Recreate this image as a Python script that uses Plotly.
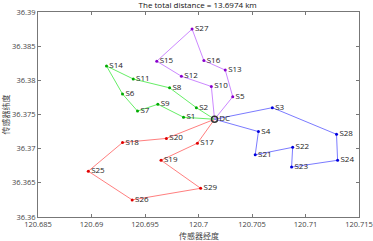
import plotly.graph_objects as go

depot = ("DC", 120.7015, 36.3743)

green_names = ["S2", "S8", "S11", "S14", "S6", "S7", "S9", "S1"]
green_lon = [120.6998, 120.6973, 120.6939, 120.6914, 120.6929, 120.6943, 120.6962, 120.6986]
green_lat = [36.3760, 36.3789, 36.3802, 36.3821, 36.3780, 36.3755, 36.3765, 36.3746]

purple_names = ["S10", "S12", "S15", "S27", "S16", "S13", "S5"]
purple_lon = [120.7012, 120.6984, 120.6961, 120.6994, 120.7005, 120.7025, 120.7032]
purple_lat = [36.3791, 36.3806, 36.3828, 36.3875, 36.3829, 36.3815, 36.3776]

blue_names = ["S3", "S28", "S24", "S23", "S22", "S21", "S4"]
blue_lon = [120.7069, 120.7129, 120.7130, 120.7087, 120.7088, 120.7053, 120.7056]
blue_lat = [36.3760, 36.3721, 36.3683, 36.3673, 36.3702, 36.3691, 36.3725]

red_names = ["S20", "S18", "S25", "S26", "S29", "S19", "S17"]
red_lon = [120.6970, 120.6929, 120.6897, 120.6938, 120.7002, 120.6965, 120.6999]
red_lat = [36.3715, 36.3709, 36.3667, 36.3625, 36.3642, 36.3683, 36.3708]

x_ticks = [120.685, 120.69, 120.695, 120.7, 120.705, 120.71, 120.715]
x_ticktext = ["120.685", "120.69", "120.695", "120.7", "120.705", "120.71", "120.715"]
y_ticks = [36.36, 36.365, 36.37, 36.375, 36.38, 36.385, 36.39]
y_ticktext = ["36.36", "36.365", "36.37", "36.375", "36.38", "36.385", "36.39"]

total_distance = 13.6974

routes = [
    (red_names, red_lon, red_lat, "#ff7f7f", "#e00000"),
    (green_names, green_lon, green_lat, "#66ee66", "#00aa00"),
    (purple_names, purple_lon, purple_lat, "#cc88ff", "#8800cc"),
    (blue_names, blue_lon, blue_lat, "#7b7bff", "#0000dd"),
]

font_fam = "Open Sans, Noto Sans CJK SC, sans-serif"
fig = go.Figure()
for names, lon, lat, lc, mc in routes:
    xs = [depot[1]] + lon + [depot[1]]
    ys = [depot[2]] + lat + [depot[2]]
    fig.add_trace(go.Scatter(x=xs, y=ys, mode="lines", line=dict(color=lc, width=1),
                             showlegend=False, hoverinfo="skip"))
    fig.add_trace(go.Scatter(x=lon, y=lat, mode="markers+text", text=names,
                             textposition="middle right",
                             textfont=dict(size=8, color="#222222", family=font_fam),
                             marker=dict(color=mc, size=3), showlegend=False))

fig.add_trace(go.Scatter(x=[depot[1]], y=[depot[2]], mode="markers+text", text=[depot[0]],
                         textposition="middle right",
                         textfont=dict(size=8, color="#222222", family=font_fam),
                         marker=dict(color="#333333", size=6, symbol="circle-open", line=dict(width=1.5)),
                         showlegend=False))

axis_common = dict(showline=True, linecolor="#777777", linewidth=1, mirror="ticks",
                   ticks="inside", ticklen=3, tickcolor="#777777", showgrid=False, zeroline=False,
                   ticklabeloverflow="allow", automargin=False,
                   tickfont=dict(size=7.5, color="#444444", family=font_fam))

fig.update_layout(
    width=373, height=241,
    margin=dict(l=38, r=14, t=12, b=24),
    paper_bgcolor="white", plot_bgcolor="white",
    title=dict(text=f"The total distance = {total_distance} km", x=0.53, xanchor="center",
               xref="container", y=1 - 2 / 241, yanchor="top",
               font=dict(size=8, color="#111111", family=font_fam)),
    xaxis=dict(range=[120.685, 120.715], tickvals=x_ticks, ticktext=x_ticktext, **axis_common),
    yaxis=dict(range=[36.36, 36.39], tickvals=y_ticks, ticktext=y_ticktext, **axis_common),
    annotations=[
        dict(text="传感器经度", xref="paper", yref="paper", x=0.5, y=-18 / 205,
             xanchor="center", yanchor="middle", showarrow=False,
             font=dict(size=8, color="#444444", family=font_fam)),
        dict(text="传感器纬度", xref="paper", yref="paper", x=-33 / 321, y=0.5,
             xanchor="center", yanchor="middle", showarrow=False, textangle=-90,
             font=dict(size=8, color="#444444", family=font_fam)),
    ],
)

fig.write_html("out.html", config={"displayModeBar": False},
               post_script="document.body.style.margin='0';")
